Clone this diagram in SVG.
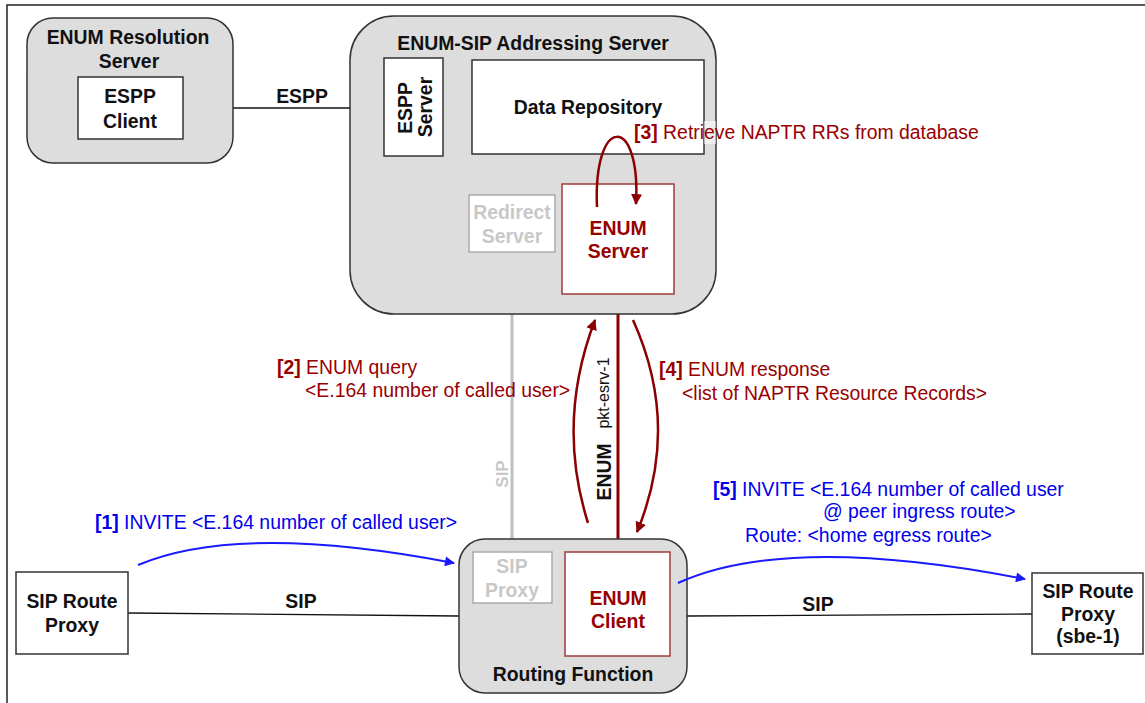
<svg xmlns="http://www.w3.org/2000/svg" width="1145" height="703" viewBox="0 0 1145 703">
  <style>
    text { font-family: "Liberation Sans", Arial, sans-serif; }
    .grp { fill: #dddddd; stroke: #333333; stroke-width: 1.5; }
    .box { fill: #ffffff; stroke: #333333; stroke-width: 1.5; }
    .gbox { fill: #ffffff; stroke: #aaaaaa; stroke-width: 1.5; }
    .rbox { fill: #ffffff; stroke: #a03a3a; stroke-width: 1.5; }
    .lbl { font-size: 19.4px; font-weight: bold; fill: #111111; text-anchor: middle; }
    .glbl { font-size: 19.4px; font-weight: bold; fill: #c8c8c8; text-anchor: middle; }
    .rlbl { font-size: 19.4px; font-weight: bold; fill: #990000; text-anchor: middle; }
    .rmsg { font-size: 19.4px; fill: #990000; }
    .bmsg { font-size: 19.4px; fill: #0000ee; }
    .b { font-weight: bold; }
    .link { fill: none; stroke: #111111; stroke-width: 1.3; }
    .glink { fill: none; stroke: #c0c0c0; stroke-width: 3; }
    .rlink { fill: none; stroke: #8b0000; stroke-width: 3; }
    .rflow { fill: none; stroke: #8b0000; stroke-width: 2.5; }
    .bflow { fill: none; stroke: #1a1aff; stroke-width: 2; }
  </style>
  <defs>
    <marker id="arrRed" viewBox="0 0 10 10" refX="9" refY="5" markerWidth="11" markerHeight="11" markerUnits="userSpaceOnUse" orient="auto">
      <path d="M0,0 L10,5 L0,10 Z" fill="#8b0000"/>
    </marker>
    <marker id="arrBlue" viewBox="0 0 10 10" refX="9" refY="5" markerWidth="11" markerHeight="10" markerUnits="userSpaceOnUse" orient="auto">
      <path d="M0,0 L10,5 L0,10 Z" fill="#1a1aff"/>
    </marker>
  </defs>

  <rect width="1145" height="703" fill="#ffffff"/>
  <!-- outer frame -->
  <path d="M7,703 L7,5 L1145,5" fill="none" stroke="#222222" stroke-width="1.5"/>

  <!-- links between components -->
  <g id="connectors">
    <line class="link" x1="183" y1="108" x2="384" y2="108"/>
    <line class="link" x1="443" y1="108" x2="472" y2="108"/>
    <line class="glink" x1="512" y1="155" x2="512" y2="552"/>
    <line class="rlink" x1="617" y1="154" x2="617" y2="184"/>
    <line class="rlink" x1="618" y1="294" x2="618" y2="552"/>
    <path class="link" d="M128,613 L459,616"/>
    <path class="link" d="M687,616 L1032,614"/>
  </g>

  <!-- ENUM Resolution Server -->
  <g id="enum-resolution-server">
    <rect class="grp" x="27" y="18" width="206" height="145" rx="26"/>
    <text class="lbl" x="128" y="44">ENUM Resolution</text>
    <text class="lbl" x="129" y="68">Server</text>
  </g>
  <g id="espp-client">
    <rect class="box" x="78" y="77" width="105" height="62"/>
    <text class="lbl" x="130" y="103">ESPP</text>
    <text class="lbl" x="130" y="128">Client</text>
  </g>

  <!-- ENUM-SIP Addressing Server -->
  <g id="enum-sip-addressing-server">
    <rect class="grp" x="350" y="16" width="366" height="298" rx="44"/>
    <text class="lbl" x="533" y="50">ENUM-SIP Addressing Server</text>
  </g>
  <g id="espp-server">
    <rect class="box" x="384" y="58" width="59" height="98"/>
    <text class="lbl" transform="translate(412,108) rotate(-90)">ESPP</text>
    <text class="lbl" transform="translate(432,107) rotate(-90)">Server</text>
  </g>
  <g id="data-repository">
    <rect class="box" x="472" y="60" width="232" height="94"/>
    <text class="lbl" x="588" y="114">Data Repository</text>
  </g>
  <g id="redirect-server">
    <rect class="gbox" x="469" y="195" width="86" height="57"/>
    <text class="glbl" x="512" y="219">Redirect</text>
    <text class="glbl" x="512" y="243">Server</text>
  </g>
  <g id="enum-server">
    <rect class="rbox" x="562" y="184" width="112" height="110"/>
    <text class="rlbl" x="618" y="235">ENUM</text>
    <text class="rlbl" x="618" y="258">Server</text>
  </g>

  <!-- Routing Function -->
  <g id="routing-function">
    <rect class="grp" x="459" y="539" width="228" height="154" rx="26"/>
    <text class="lbl" x="573" y="681">Routing Function</text>
  </g>
  <g id="sip-proxy">
    <rect class="gbox" x="473" y="552" width="79" height="51"/>
    <text class="glbl" x="512" y="573">SIP</text>
    <text class="glbl" x="512" y="597">Proxy</text>
  </g>
  <g id="enum-client">
    <rect class="rbox" x="565" y="552" width="105" height="104"/>
    <text class="rlbl" x="618" y="605">ENUM</text>
    <text class="rlbl" x="618" y="628">Client</text>
  </g>

  <!-- SIP Route Proxies -->
  <g id="sip-route-proxy-left">
    <rect class="box" x="16" y="572" width="112" height="82"/>
    <text class="lbl" x="72" y="608">SIP Route</text>
    <text class="lbl" x="72" y="632">Proxy</text>
  </g>
  <g id="sip-route-proxy-sbe1">
    <rect class="box" x="1032" y="573" width="111" height="81"/>
    <text class="lbl" x="1088" y="598">SIP Route</text>
    <text class="lbl" x="1088" y="621">Proxy</text>
    <text class="lbl" x="1088" y="643">(sbe-1)</text>
  </g>

  <!-- numbered message flows, drawn above the components -->
  <g id="message-flows">
    <path class="rflow" d="M597,207 C593,114 641,114 636,204" marker-end="url(#arrRed)"/>
    <path class="rflow" d="M588,523 Q556,422 595,320" marker-end="url(#arrRed)"/>
    <path class="rflow" d="M633,320 Q681,426 637,532" marker-end="url(#arrRed)"/>
    <path class="bflow" d="M138,565 Q240,522 454,563" marker-end="url(#arrBlue)"/>
    <path class="bflow" d="M678,583 Q788,533 1025,579" marker-end="url(#arrBlue)"/>
  </g>

  <!-- link and message labels -->
  <g id="connector-labels">
    <text class="lbl" x="302" y="103">ESPP</text>
    <text class="lbl" x="301" y="608">SIP</text>
    <text class="lbl" x="818" y="611">SIP</text>
    <text class="glbl" transform="translate(508,474) rotate(-90)" style="font-size:17px">SIP</text>
    <text class="lbl" transform="translate(611,472) rotate(-90)">ENUM</text>
    <text transform="translate(609,393) rotate(-90)" text-anchor="middle" font-size="16" fill="#111111">pkt-esrv-1</text>
    <rect x="704" y="121" width="12" height="23" fill="#ffffff" fill-opacity="0.55"/>
    <text class="rmsg" x="634" y="139"><tspan class="b">[3]</tspan> Retrieve NAPTR RRs from database</text>
    <text class="rmsg" x="277" y="374"><tspan class="b">[2]</tspan> ENUM query</text>
    <text class="rmsg" x="305" y="397">&lt;E.164 number of called user&gt;</text>
    <text class="rmsg" x="659" y="376"><tspan class="b">[4]</tspan> ENUM response</text>
    <text class="rmsg" x="682" y="400">&lt;list of NAPTR Resource Records&gt;</text>
    <text class="bmsg" x="95" y="529"><tspan class="b">[1]</tspan> INVITE &lt;E.164 number of called user&gt;</text>
    <text class="bmsg" x="713" y="496"><tspan class="b">[5]</tspan> INVITE &lt;E.164 number of called user</text>
    <text class="bmsg" x="823" y="518">@ peer ingress route&gt;</text>
    <text class="bmsg" x="745" y="542">Route: &lt;home egress route&gt;</text>
  </g>
</svg>
